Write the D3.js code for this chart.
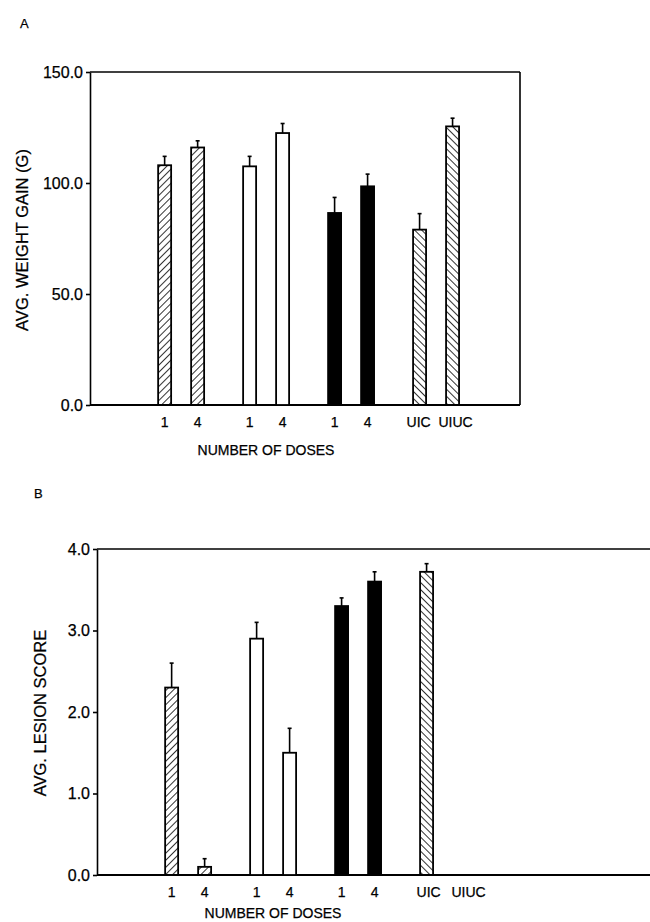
<!DOCTYPE html>
<html>
<head>
<meta charset="utf-8">
<script src="https://cdn.jsdelivr.net/npm/d3@7"></script>
<style>
  body { margin: 0; background: #fff; }
  svg { display: block; font-family: "Liberation Sans", Arial, sans-serif; }
  svg text { stroke: #000; stroke-width: 0.25; }
  .axis path, .axis line { stroke: #000; stroke-width: 1.6; }
  .axis text { font-size: 16px; fill: #000; }
</style>
</head>
<body>
<div id="chart"></div>
<script>
// Chart data
var groups = ["hatchA", "open", "solid", "control"];
var doses = ["a", "b"];
var doseLabels = ["1", "4", "1", "4", "1", "4", "UIC", "UIUC"];
var barGroup = ["hatchA", "hatchA", "open", "open", "solid", "solid", "control", "control"];
var barFill = ["fwd", "fwd", "open", "open", "solid", "solid", "back", "back"];

var weightGain = [108, 116, 107.5, 122.5, 86.5, 98.5, 79, 125.5];
var weightErr = [4, 3, 4.5, 4.3, 7, 5.5, 7.2, 3.7];
var weightTicks = [0, 50, 100, 150];

var lesionScore = [2.3, 0.1, 2.9, 1.5, 3.3, 3.6, 3.72, 0];
var lesionErr = [0.3, 0.1, 0.2, 0.3, 0.1, 0.12, 0.1, 0];
var lesionTicks = [0, 1, 2, 3, 4];

var w = 650;
var h = 922;

var svg = d3.select("#chart")
  .append("svg")
  .attr("width", w)
  .attr("height", h);

// hatch patterns
var defs = svg.append("defs");
[["fwd", 45], ["back", -45]].forEach(function(p) {
  defs.append("pattern")
    .attr("id", "hatch-" + p[0])
    .attr("patternUnits", "userSpaceOnUse")
    .attr("width", 5)
    .attr("height", 5)
    .attr("patternTransform", "rotate(" + p[1] + ")")
    .append("line")
    .attr("x1", 0).attr("y1", 0)
    .attr("x2", 0).attr("y2", 5)
    .attr("stroke", "#000")
    .attr("stroke-width", 1.6);
});

function fillFor(f) {
  if (f == "solid") return "#000";
  if (f == "open") return "#fff";
  return "url(#hatch-" + f + ")";
}

function drawPanel(cfg) {
  var g = svg.append("g");

  var x0 = d3.scaleBand()
    .domain(groups)
    .range([cfg.left, cfg.left + 430])
    .paddingInner(0)
    .paddingOuter(0.53)
    .align(0.54);

  var x1 = d3.scaleBand()
    .domain(doses)
    .range([0, x0.bandwidth()])
    .paddingInner(0.606)
    .paddingOuter(0.591);

  var y = d3.scaleLinear()
    .domain([0, cfg.max])
    .range([cfg.bottom, cfg.top]);

  var bars = cfg.values.map(function(v, i) {
    return { value: v, err: cfg.errs[i], group: barGroup[i], dose: doses[i % 2], fill: barFill[i], label: doseLabels[i] };
  });

  function bx(d) { return x0(d.group) + x1(d.dose); }

  // frame: top and right
  g.append("line")
    .attr("x1", cfg.left).attr("x2", cfg.right)
    .attr("y1", y(cfg.max)).attr("y2", y(cfg.max))
    .attr("stroke", "#000").attr("stroke-width", 1.6);
  g.append("line")
    .attr("x1", cfg.right).attr("x2", cfg.right)
    .attr("y1", y(cfg.max)).attr("y2", y(0))
    .attr("stroke", "#000").attr("stroke-width", 1.6);
  g.append("line")
    .attr("x1", cfg.left).attr("x2", cfg.right)
    .attr("y1", y(0)).attr("y2", y(0))
    .attr("stroke", "#000").attr("stroke-width", 1.9);

  // y axis
  g.append("g")
    .attr("class", "axis")
    .attr("transform", "translate(" + cfg.left + ",0)")
    .call(d3.axisLeft(y)
      .tickValues(cfg.ticks)
      .tickSize(4)
      .tickSizeOuter(0)
      .tickPadding(3)
      .tickFormat(d3.format(".1f")));

  // error bars
  var eb = g.selectAll("g.err")
    .data(bars.filter(function(d) { return d.err > 0; }))
    .join("g")
    .attr("class", "err");
  eb.append("line")
    .attr("x1", function(d) { return bx(d) + x1.bandwidth() / 2; })
    .attr("x2", function(d) { return bx(d) + x1.bandwidth() / 2; })
    .attr("y1", function(d) { return y(d.value); })
    .attr("y2", function(d) { return y(d.value + d.err); })
    .attr("stroke", "#000").attr("stroke-width", 1.6);
  eb.append("line")
    .attr("x1", function(d) { return bx(d) + x1.bandwidth() / 2 - 2; })
    .attr("x2", function(d) { return bx(d) + x1.bandwidth() / 2 + 2; })
    .attr("y1", function(d) { return y(d.value + d.err); })
    .attr("y2", function(d) { return y(d.value + d.err); })
    .attr("stroke", "#000").attr("stroke-width", 1.6);

  // bars
  g.selectAll("rect.bar")
    .data(bars.filter(function(d) { return d.value > 0; }))
    .join("rect")
    .attr("class", "bar")
    .attr("x", bx)
    .attr("width", x1.bandwidth())
    .attr("y", function(d) { return y(d.value); })
    .attr("height", function(d) { return y(0) - y(d.value); })
    .attr("fill", function(d) { return fillFor(d.fill); })
    .attr("stroke", "#000")
    .attr("stroke-width", 1.8);

  // dose labels
  g.selectAll("text.dose")
    .data(bars)
    .join("text")
    .attr("class", "dose")
    .attr("x", function(d) { return bx(d) + x1.bandwidth() / 2 + cfg.labelShift(d); })
    .attr("y", y(0) + 22)
    .attr("text-anchor", "middle")
    .attr("font-size", 14)
    .text(function(d) { return d.label; });

  // x title
  g.append("text")
    .attr("x", cfg.left + 176)
    .attr("y", y(0) + cfg.titleGap)
    .attr("text-anchor", "middle")
    .attr("font-size", 14)
    .text("NUMBER OF DOSES");

  // y title
  g.append("text")
    .attr("transform", "translate(" + cfg.yTitleX + "," + cfg.yTitleY + ") rotate(-90)")
    .attr("text-anchor", "middle")
    .attr("font-size", 16.5)
    .text(cfg.yTitle);

  // panel letter
  g.append("text")
    .attr("x", cfg.letterX)
    .attr("y", cfg.letterY)
    .attr("font-size", 13)
    .text(cfg.letter);
}

drawPanel({
  letter: "A", letterX: 20, letterY: 28,
  values: weightGain, errs: weightErr, ticks: weightTicks, max: 150,
  left: 90, right: 520, top: 72, bottom: 405,
  yTitle: "AVG. WEIGHT GAIN (G)", yTitleX: 28, yTitleY: 240,
  titleGap: 50,
  labelShift: function(d) { return d.label == "UIC" ? -1 : (d.label == "UIUC" ? 3 : 0); }
});

drawPanel({
  letter: "B", letterX: 34, letterY: 498,
  values: lesionScore, errs: lesionErr, ticks: lesionTicks, max: 4,
  left: 97, right: 665, top: 549, bottom: 875,
  yTitle: "AVG. LESION SCORE", yTitleX: 46, yTitleY: 713,
  titleGap: 43,
  labelShift: function(d) { return d.label == "UIC" ? 2 : (d.label == "UIUC" ? 9 : 0); }
});
</script>
</body>
</html>
